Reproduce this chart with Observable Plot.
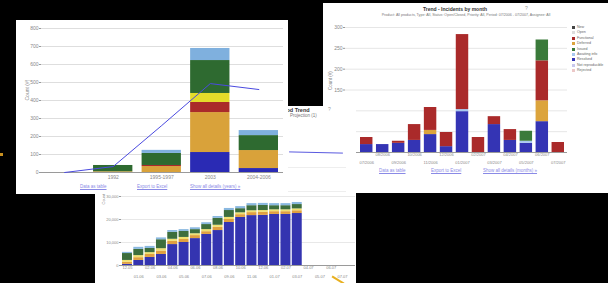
<!DOCTYPE html>
<html><head><meta charset="utf-8">
<script src="https://cdn.jsdelivr.net/npm/d3@7"></script>
<script src="https://cdn.jsdelivr.net/npm/@observablehq/plot@0.6"></script>
<style>
html,body{margin:0;padding:0;background:#000;width:608px;height:283px;overflow:hidden;font-family:"Liberation Sans",Arial,sans-serif}
.panel{position:absolute;background:#fff;overflow:hidden}
.panel svg{display:block;position:absolute;left:0;overflow:visible}
.txt{position:absolute;white-space:nowrap;line-height:1}
.lnk{position:absolute;white-space:nowrap;font-size:4.5px;color:#8a8ae6;text-decoration:underline;line-height:1}
.lg{position:absolute;font-size:3.6px;color:#666;white-space:nowrap;line-height:1}
.lg i{display:inline-block;width:3px;height:3px;margin-right:2px;vertical-align:middle}
</style></head>
<body>
<div id="pC" class="panel" style="left:323px;top:3px;width:285px;height:190px;z-index:1"></div>
<div id="pB" class="panel" style="left:272px;top:106px;width:84px;height:177px;z-index:2"></div>
<div id="pA" class="panel" style="left:16px;top:20px;width:272px;height:174px;z-index:3"></div>
<div id="pD" class="panel" style="left:95px;top:193px;width:261px;height:90px;z-index:4"></div>
<div style="position:absolute;left:331px;top:279px;width:14px;height:2px;background:#e8b020;transform:rotate(32deg);z-index:5"></div>
<div style="position:absolute;left:0px;top:153px;width:3px;height:3px;background:#c89020;z-index:5"></div>
<script>
const font = "Liberation Sans, Arial, sans-serif";

// ---------- Panel A (left chart) ----------
const aCats = [0, 1, 2, 3, 4];
const aTickLabels = ["", "1992", "1995-1997", "2003", "2004-2006"];
const aSeries = ["Critical", "Major", "Minor", "Trivial", "Open", "Other"];
const aColors = ["#2a2ab4", "#d9a23a", "#aa2a2a", "#e4dc2a", "#2e6a30", "#7fb0de"];
const aBlue   = [0, 0, 0, 111, 22];
const aOrange = [0, 4, 33, 222, 100];
const aRed    = [0, 0, 6, 56, 0];
const aYellow = [0, 0, 0, 50, 0];
const aGreen  = [0, 35, 67, 183, 83];
const aLight  = [0, 0, 17, 67, 28];
const aTrend  = [0, 33, 261, 494, 461];
const aTicks  = [0, 100, 200, 300, 400, 500, 600, 700, 800];
const aLinks  = ["Data as table", "Export to Excel", "Show all details (years) »"];

// ---------- Panel B (trend legend) ----------
const bTrendX = [0, 1];
const bTrendY = [93, 92];
const bGrid = [20, 40, 60, 80];

// ---------- Panel C (right chart) ----------
const cCats = ["07/2006","08/2006","09/2006","10/2006","11/2006","12/2006","01/2007","02/2007","03/2007","04/2007","05/2007","06/2007","07/2007"];
const cSeries = ["New", "Open", "Functional", "Deferred", "Issued", "Awaiting info", "Resolved", "Not reproducible", "Rejected"];
const cColors = ["#444444", "#dddddd", "#aa2a2a", "#dca43c", "#3a7a3a", "#a8c8f0", "#3434b4", "#c8c8ec", "#ecc8c8"];
const cBlue   = [19, 19, 22, 29, 43, 14, 98, 0, 67, 29, 22, 74, 0];
const cLight  = [0, 0, 0, 0, 0, 0, 5, 0, 0, 0, 5, 0, 0];
const cOrange = [0, 0, 0, 0, 10, 0, 0, 0, 0, 0, 0, 50, 0];
const cRed    = [17, 0, 5, 38, 55, 34, 180, 36, 19, 26, 0, 96, 24];
const cGreen  = [0, 0, 0, 0, 0, 0, 0, 0, 0, 0, 24, 50, 0];
const cTicks  = [0, 50, 100, 150, 200, 250, 300];
const cLinks  = ["Data as table", "Export to Excel", "Show all details (months) »"];
const cTitle = "Trend - Incidents by month";
const cSubtitle = "Product: All products, Type: All, Status: Open/Closed, Priority: All, Period: 07/2006 - 07/2007, Assignee: All";

// ---------- Panel D (bottom chart) ----------
const dCats = ["12.05","01.06","02.06","03.06","04.06","05.06","06.06","07.06","08.06","09.06","10.06","11.06","12.06","01.07","02.07","03.07","04.07","05.07","06.07","07.07"];
const dSeries = ["Closed", "Deferred", "Issued", "Open", "Other"];
const dColors = ["#3434b0", "#e0a040", "#f0e070", "#3d6e3d", "#8ab8e0"];
const dBlue   = [500, 2200, 3500, 4800, 9100, 10000, 11700, 13500, 15200, 18700, 20900, 21700, 21800, 22200, 22200, 22600];
const dOrange = [900, 1200, 1300, 1500, 1400, 1300, 1300, 1200, 1400, 1300, 1200, 1300, 1300, 1200, 1200, 1200];
const dYellow = [800, 900, 800, 1000, 900, 900, 800, 900, 900, 900, 800, 800, 800, 800, 800, 800];
const dGreen  = [3000, 2700, 1800, 3900, 3000, 2600, 1800, 2200, 3000, 3000, 1800, 2200, 2200, 1800, 1800, 1900];
const dLight  = [500, 900, 900, 800, 800, 800, 800, 800, 800, 900, 900, 900, 900, 900, 900, 900];
const dTicks  = [0, 10000, 20000, 30000];

function stackRows(cats, names, arrays) {
  const rows = [];
  names.forEach((n, s) => arrays[s].forEach((v, i) => rows.push({cat: cats[i], series: n, value: v})));
  return rows;
}
const axisStyle = {fontSize: 5, fill: "#888"};

// ---- Panel A ----
const rowsA = stackRows(aCats, aSeries, [aBlue, aOrange, aRed, aYellow, aGreen, aLight]);
const svgA = Plot.plot({
  width: 272, height: 164, marginLeft: 25, marginRight: 5, marginTop: 8, marginBottom: 12,
  style: {background: "transparent", fontFamily: font, color: "#888"},
  x: {type: "band", domain: aCats, range: [28.5, 262], paddingInner: 0.19, paddingOuter: 0, round: false, axis: null},
  y: {domain: [0, 800], range: [152, 8], axis: null},
  color: {domain: aSeries, range: aColors},
  marks: [
    Plot.gridY(aTicks, {stroke: "#dedede", strokeOpacity: 1}),
    Plot.barY(rowsA, {x: "cat", y: "value", fill: "series"}),
    Plot.ruleY([0], {stroke: "#9a9a9a"}),
    Plot.axisY(aTicks, {tickSize: 2, tickPadding: 1, stroke: "#9a9a9a", ...axisStyle, label: null}),
    Plot.axisX({tickSize: 0, tickPadding: 3, tickFormat: i => aTickLabels[i], ...axisStyle, label: null}),
    Plot.line(aCats, {x: d => d, y: (d, i) => aTrend[i], stroke: "#4a4ae0", strokeWidth: 1}),
    Plot.text(["Count (#)"], {frameAnchor: "left", rotate: -90, dx: -14, fontSize: 5, fill: "#888"})
  ]
});
svgA.style.top = "0px";
const pA = document.getElementById("pA");
pA.appendChild(svgA);
[[64, aLinks[0]], [121, aLinks[1]], [174, aLinks[2]]].forEach(([l, t]) => {
  const e = document.createElement("div"); e.className = "lnk";
  e.style.left = l + "px"; e.style.top = "165px"; e.textContent = t; pA.appendChild(e);
});

// ---- Panel B ----
const svgB = Plot.plot({
  width: 84, height: 177, marginLeft: 16, marginRight: 10, marginTop: 0, marginBottom: 0,
  style: {background: "transparent"},
  x: {domain: [0, 1], range: [17, 70], axis: null},
  y: {domain: [0, 100], range: [157, 37], axis: null},
  marks: [
    Plot.gridY(bGrid, {stroke: "#eeeeee", strokeOpacity: 1}),
    Plot.line(bTrendX, {x: d => d, y: (d, i) => bTrendY[i], stroke: "#5a5ae0", strokeWidth: 1})
  ]
});
svgB.style.top = "0px";
const pB = document.getElementById("pB");
pB.appendChild(svgB);
pB.insertAdjacentHTML("beforeend",
  '<div class="txt" style="left:4px;top:2px;font-size:5.5px;font-weight:bold;color:#333">Period Trend</div>' +
  '<div class="txt" style="left:18px;top:8px;font-size:4.5px;color:#777">Projection (1)</div>' +
  '<div class="txt" style="left:56px;top:1px;font-size:5px;color:#999">?</div>');

// ---- Panel C ----
const rowsC = stackRows(cCats, ["Resolved", "Awaiting info", "Deferred", "Functional", "Issued"], [cBlue, cLight, cOrange, cRed, cGreen]);
const svgC = Plot.plot({
  width: 285, height: 144, marginLeft: 22, marginRight: 41, marginTop: 4, marginBottom: 15,
  style: {background: "transparent", fontFamily: font, color: "#888"},
  x: {type: "band", domain: cCats, range: [37, 241], paddingInner: 0.22, paddingOuter: 0, round: false, axis: null},
  y: {domain: [0, 300], range: [129, 4], axis: null},
  color: {domain: cSeries, range: cColors},
  marks: [
    Plot.gridY(cTicks, {stroke: "#e6e6e6", strokeOpacity: 1}),
    Plot.barY(rowsC, {x: "cat", y: "value", fill: "series"}),
    Plot.ruleY([0], {stroke: "#9a9a9a"}),
    Plot.axisY(cTicks, {tickSize: 2, tickPadding: 1, stroke: "#9a9a9a", ...axisStyle, label: null}),
    Plot.axisX(cCats.filter((d, i) => i % 2 === 1), {tickSize: 0, tickPadding: 1, ...axisStyle, fontSize: 4, label: null}),
    Plot.axisX(cCats.filter((d, i) => i % 2 === 0), {tickSize: 0, tickPadding: 9, ...axisStyle, fontSize: 4, label: null}),
    Plot.text(["Count (#)"], {frameAnchor: "left", rotate: -90, dx: -15, fontSize: 4.5, fill: "#888"})
  ]
});
svgC.style.top = "20px";
const pC = document.getElementById("pC");
pC.appendChild(svgC);
pC.insertAdjacentHTML("beforeend",
  `<div class="txt" style="left:0;width:264px;text-align:center;top:4px;font-size:5px;font-weight:bold;color:#333">${cTitle}</div>` +
  `<div class="txt" style="left:0;width:286px;text-align:center;top:11px;font-size:3.6px;color:#777">${cSubtitle}</div>` +
  `<div class="txt" style="left:202px;top:3px;font-size:5px;color:#999">?</div>`);
[[56, cLinks[0]], [108, cLinks[1]], [160, cLinks[2]]].forEach(([l, t]) => {
  const e = document.createElement("div"); e.className = "lnk";
  e.style.left = l + "px"; e.style.top = "166px"; e.textContent = t; pC.appendChild(e);
});
cSeries.forEach((s, i) => {
  const e = document.createElement("div"); e.className = "lg";
  e.style.left = "249px"; e.style.top = (23 + i * 5.4) + "px";
  e.innerHTML = `<i style="background:${cColors[i]}"></i>${s}`; pC.appendChild(e);
});

// ---- Panel D ----
const rowsD = stackRows(dCats, dSeries, [dBlue, dOrange, dYellow, dGreen, dLight]);
const svgD = Plot.plot({
  width: 261, height: 90, marginLeft: 26, marginRight: 1, marginTop: 3, marginBottom: 18,
  style: {background: "transparent", fontFamily: font, color: "#888"},
  x: {type: "band", domain: dCats, range: [27, 252], paddingInner: 0.12, paddingOuter: 0, round: false, axis: null},
  y: {domain: [0, 30000], range: [72, 3], axis: null},
  color: {domain: dSeries, range: dColors},
  marks: [
    Plot.gridY(dTicks, {stroke: "#e8e8e8", strokeOpacity: 1}),
    Plot.barY(rowsD, {x: "cat", y: "value", fill: "series"}),
    Plot.ruleY([0], {stroke: "#9a9a9a"}),
    Plot.axisY(dTicks, {tickSize: 2, tickPadding: 1, stroke: "#9a9a9a", ...axisStyle, fontSize: 4, label: null}),
    Plot.axisX(dCats.filter((d, i) => i % 2 === 0), {tickSize: 0, tickPadding: 1, ...axisStyle, fontSize: 4, label: null}),
    Plot.axisX(dCats.filter((d, i) => i % 2 === 1), {tickSize: 0, tickPadding: 10, ...axisStyle, fontSize: 4, label: null}),
    Plot.text(["Count"], {frameAnchor: "top-left", rotate: -90, dx: -19, dy: 8, fontSize: 4, fill: "#888"})
  ]
});
svgD.style.top = "0px";
document.getElementById("pD").appendChild(svgD);
</script>
</body></html>
